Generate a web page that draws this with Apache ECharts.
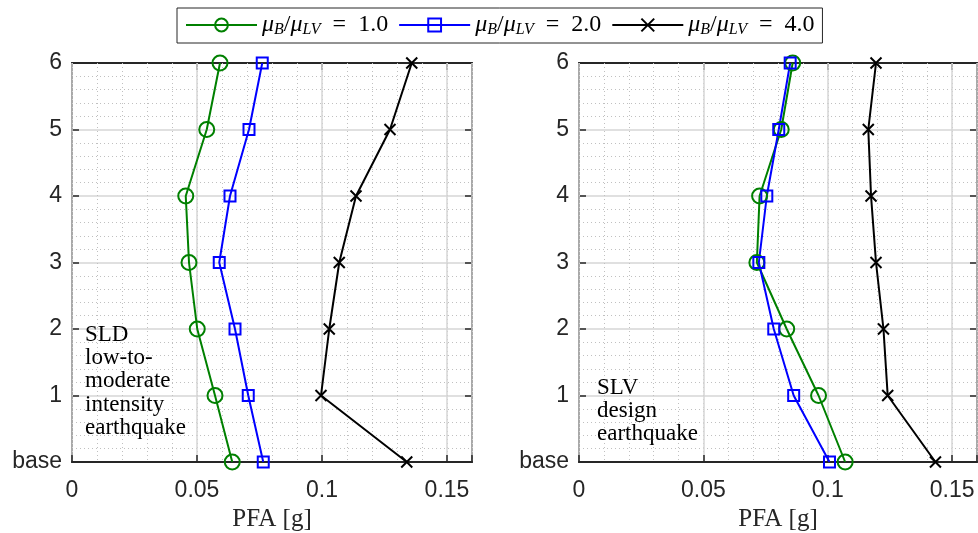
<!DOCTYPE html>
<html><head><meta charset="utf-8">
<script src="https://cdn.jsdelivr.net/npm/echarts@6/dist/echarts.min.js"></script>
<style>html,body{margin:0;padding:0;background:#fff}#c{width:978px;height:533px}</style>
</head><body><div id="c"></div><script>
// ---- data ----
const levels = [0, 1, 2, 3, 4, 5, 6];
const yTickLabels = ['base', '1', '2', '3', '4', '5', '6'];
const xTickLabels = ['0', '0.05', '0.1', '0.15'];
const xTickValues = [0, 0.05, 0.1, 0.15];
const ratioLabels = ['1.0', '2.0', '4.0'];
const sldRatio1 = [0.0641, 0.0572, 0.0501, 0.0468, 0.0455, 0.0539, 0.0592];
const sldRatio2 = [0.0765, 0.0705, 0.0652, 0.0589, 0.0632, 0.0708, 0.0761];
const sldRatio4 = [0.1339, 0.0996, 0.1029, 0.1069, 0.1136, 0.1272, 0.1359];
const slvRatio1 = [0.1070, 0.0963, 0.0835, 0.0715, 0.0726, 0.0813, 0.0859];
const slvRatio2 = [0.1007, 0.0863, 0.0783, 0.0723, 0.0755, 0.0803, 0.0849];
const slvRatio4 = [0.1433, 0.1241, 0.1224, 0.1194, 0.1174, 0.1163, 0.1194];
const xTitle = 'PFA [g]';
const sldNote = 'SLD\nlow-to-\nmoderate\nintensity\nearthquake';
const slvNote = 'SLV\ndesign\nearthquake';

// ---- styling ----
const AX = '#262626';
const SANS = '"Liberation Sans", Arial, sans-serif';
const SERIF = '"Liberation Serif", "Times New Roman", serif';
const names = ['r1', 'r2', 'r4'];
const colors = ['#008000', '#0000ff', '#000000'];
const symbols = ['circle', 'rect', 'path://M0,0L10,10M10,0L0,10'];
const sizes = [15, 11, 11];

function zip(xs) { return xs.map((x, i) => [x, levels[i]]); }

const grids = [
  { left: 72, top: 63, width: 400, height: 399, containLabel: false, outerBoundsMode: 'none' },
  { left: 579, top: 63, width: 398, height: 399, containLabel: false, outerBoundsMode: 'none' }
];

const xAxes = [], yAxes = [];
grids.forEach((g, gi) => {
  const base = { gridIndex: gi, type: 'value', min: 0, max: 0.16 };
  xAxes.push(Object.assign({}, base, {
    position: 'bottom', interval: 0.05,
    name: xTitle, nameLocation: 'middle', nameGap: 45,
    nameTextStyle: { fontFamily: SERIF, fontSize: 25, color: AX },
    axisLine: { show: true, onZero: false, lineStyle: { color: AX, width: 2 } },
    axisTick: { show: true, inside: true, length: 7, lineStyle: { color: AX, width: 1.5 } },
    axisLabel: { show: true, margin: 17, fontFamily: SANS, fontSize: 23, color: AX,
      formatter: v => { const k = xTickValues.findIndex(t => Math.abs(t - v) < 1e-9); return k < 0 ? '' : xTickLabels[k]; } },
    splitLine: { show: true, lineStyle: { color: '#d6d6d6', width: 1.5 } },
    z: 3
  }));
  xAxes.push(Object.assign({}, base, {
    position: 'top', interval: 0.05,
    axisLine: { show: true, onZero: false, lineStyle: { color: AX, width: 2 } },
    axisTick: { show: true, inside: true, length: 7, lineStyle: { color: AX, width: 1.5 } },
    axisLabel: { show: false }, splitLine: { show: false }
  }));
  xAxes.push(Object.assign({}, base, {
    position: 'bottom', interval: 0.01,
    axisLine: { show: false }, axisTick: { show: false }, axisLabel: { show: false },
    splitLine: { show: true, lineStyle: { color: '#c0c0c0', width: 1, type: [1, 3] } },
    z: 1
  }));
  yAxes.push({
    gridIndex: gi, type: 'value', min: 0, max: 6, interval: 1, position: 'left',
    axisLine: { show: true, onZero: false, lineStyle: { color: AX, width: 2 } },
    axisTick: { show: true, inside: true, length: 7, lineStyle: { color: AX, width: 1.5 } },
    axisLabel: { show: true, margin: 10, fontFamily: SANS, fontSize: 23, color: AX,
      formatter: v => yTickLabels[Math.round(v)] },
    splitLine: { show: true, lineStyle: { color: '#d6d6d6', width: 1.5 } },
    minorTick: { show: false, splitNumber: 5 },
    minorSplitLine: { show: true, lineStyle: { color: '#c0c0c0', width: 1, type: [1, 3] } }
  });
  yAxes.push({
    gridIndex: gi, type: 'value', min: 0, max: 6, interval: 1, position: 'right',
    axisLine: { show: true, onZero: false, lineStyle: { color: AX, width: 2 } },
    axisTick: { show: true, inside: true, length: 7, lineStyle: { color: AX, width: 1.5 } },
    axisLabel: { show: false }, splitLine: { show: false }
  });
});

const panels = [[sldRatio1, sldRatio2, sldRatio4], [slvRatio1, slvRatio2, slvRatio4]];
const series = [];
panels.forEach((set, gi) => {
  set.forEach((vals, si) => {
    series.push({
      type: 'line', name: names[si],
      xAxisIndex: gi * 3, yAxisIndex: gi * 2,
      data: zip(vals),
      symbol: symbols[si], symbolSize: sizes[si],
      clip: false, z: 5,
      lineStyle: { color: colors[si], width: 2 },
      itemStyle: { color: si === 2 ? colors[si] : 'rgba(0,0,0,0)', borderColor: colors[si], borderWidth: 2 },
      emphasis: { disabled: true }
    });
  });
});

const chart = echarts.init(document.getElementById('c'), null, { renderer: 'canvas' });
chart.setOption({
  animation: false,
  backgroundColor: '#fff',
  grid: grids,
  xAxis: xAxes,
  yAxis: yAxes,
  legend: {
    data: names, left: 177, top: 8,
    orient: 'horizontal',
    itemWidth: 71, itemHeight: 16, itemGap: 10,
    padding: [5, 8, 5, 8],
    borderColor: AX, borderWidth: 1, backgroundColor: '#fff',
    selectedMode: false,
    formatter: n => '{m|μ}{s|B}{t|/}{m|μ}{s|LV}{t|  =  ' + ratioLabels[names.indexOf(n)] + '}',
    textStyle: {
      fontFamily: SERIF, fontSize: 24, color: '#000',
      rich: {
        m: { fontFamily: SERIF, fontStyle: 'italic', fontSize: 24, color: '#000' },
        s: { fontFamily: SERIF, fontStyle: 'italic', fontSize: 16, color: '#000', padding: [10, 0, 0, 0] },
        t: { fontFamily: SERIF, fontSize: 24, color: '#000' }
      }
    }
  },
  graphic: [
    { type: 'text', left: 85, top: 323, z: 10, silent: true,
      style: { text: sldNote, font: '23px ' + SERIF, lineHeight: 23.3, fill: '#000' } },
    { type: 'text', left: 597, top: 376, z: 10, silent: true,
      style: { text: slvNote, font: '23px ' + SERIF, lineHeight: 23.3, fill: '#000' } }
  ],
  series: series
});
</script></body></html>
